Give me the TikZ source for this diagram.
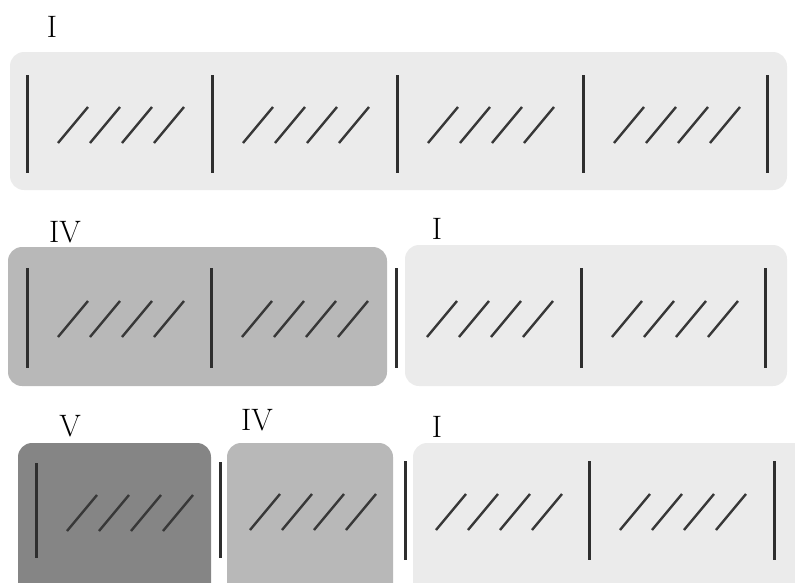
\documentclass[tikz,border=0pt]{standalone}
\usepackage{tikz}

\begin{document}
\begin{tikzpicture}[x=1pt, y=-1pt]
    \tikzstyle{chord}=[font=\fontsize{31}{34}\selectfont, inner sep=0pt]
    \tikzstyle{barline}=[line width=3pt, draw=black!82]
    \tikzstyle{beatslash}=[line width=2.4pt, draw=black!78]
    \tikzstyle{tonic}=[fill=black!8, rounded corners=14pt]
    \tikzstyle{subdom}=[fill=black!28, rounded corners=14pt]
    \tikzstyle{dom}=[fill=black!48, rounded corners=14pt]
    \useasboundingbox (0,0) rectangle (795,582);
    % harmony boxes
    \fill[tonic] (10,52) rectangle (787,190);
    \fill[subdom] (8,247) rectangle (387,386);
    \fill[tonic] (405,245) rectangle (787,386);
    \fill[dom] (18,443) rectangle (211,600);
    \fill[subdom] (227,443) rectangle (393,600);
    \fill[tonic] (413,443) rectangle (810,600);
    % chord labels
    \node[chord] (one1) at (52,27) {I};
    \node[chord] (four2) at (65,232) {IV};
    \node[chord] (one2) at (437,229) {I};
    \node[chord] (five3) at (70,426) {V};
    \node[chord] (four3) at (257,420) {IV};
    \node[chord] (one3) at (437,427) {I};
    % bar lines
    \foreach \x in {27,212,397,583,767}
        \draw[barline] (\x,75) -- (\x,173);
    \foreach \x in {27,211,396,581,765}
        \draw[barline] (\x,268) -- (\x,368);
    \foreach \x/\ya/\yb in {36/463/558, 220/462/558, 405/461/560, 589/461/560, 774/461/560}
        \draw[barline] (\x,\ya) -- (\x,\yb);
    % beats
    \foreach \bx/\by in {27/125, 212/125, 397/125, 583/125,
                         27/319, 211/319, 396/319, 581/319,
                         36/513, 219/512, 405/512, 589/512}
        \foreach \i in {0,...,3}
            \draw[beatslash] (\bx+31+32*\i,\by+18) -- ++(30,-36);
\end{tikzpicture}
\end{document}
